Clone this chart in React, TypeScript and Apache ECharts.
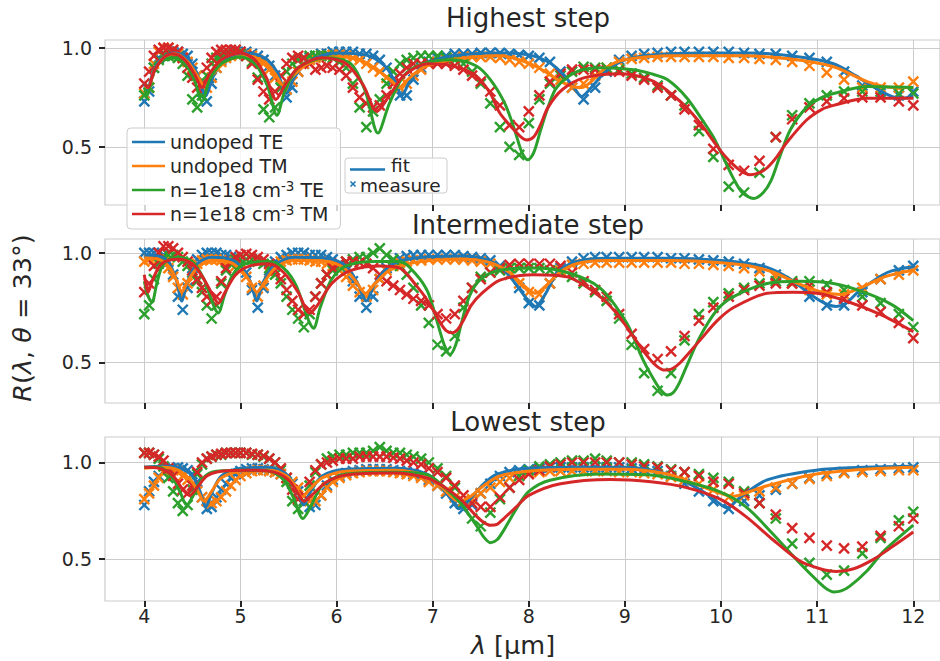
import React, { useEffect, useRef } from "react";
import * as echarts from "echarts";

const COLORS = ["#1f77b4", "#ff7f0e", "#2ca02c", "#d62728"];
const caseNames = ["undoped TE", "undoped TM", "n=1e18 cm-3 TE", "n=1e18 cm-3 TM"];
const panelTitles = ["Highest step", "Intermediate step", "Lowest step"];
const xTicks = [4, 5, 6, 7, 8, 9, 10, 11, 12];
const yTicks = [0.5, 1.0];
const xRange = [3.591, 12.278];
const yRanges = [
  [0.207, 1.04],
  [0.314, 1.063],
  [0.283, 1.132],
];

// measurement wavelengths (µm)
const mx = [
  4.0, 4.05, 4.1, 4.15, 4.2, 4.25, 4.3, 4.35, 4.4, 4.45,
  4.5, 4.55, 4.6, 4.65, 4.7, 4.75, 4.8, 4.85, 4.9, 4.95,
  5.0, 5.06, 5.12, 5.18, 5.24, 5.3, 5.36, 5.42, 5.48, 5.54,
  5.6, 5.66, 5.72, 5.78, 5.84, 5.9, 5.96, 6.03, 6.1, 6.17,
  6.24, 6.31, 6.38, 6.45, 6.52, 6.59, 6.66, 6.73, 6.8, 6.88,
  6.96, 7.05, 7.14, 7.23, 7.32, 7.41, 7.5, 7.6, 7.7, 7.8,
  7.9, 8.0, 8.11, 8.22, 8.33, 8.45, 8.57, 8.69, 8.81, 8.94,
  9.07, 9.2, 9.34, 9.48, 9.62, 9.77, 9.92, 10.08, 10.24, 10.4,
  10.57, 10.74, 10.92, 11.1, 11.28, 11.47, 11.66, 11.85, 12.0,
];

// ---------- Highest step: measurements ----------
const measHighTEu = [
  0.73, 0.78, 0.9, 0.95, 0.97, 0.98, 0.98, 0.98, 0.97, 0.96,
  0.92, 0.86, 0.78, 0.73, 0.82, 0.9, 0.94, 0.96, 0.97, 0.98,
  0.98, 0.98, 0.97, 0.96, 0.94, 0.91, 0.86, 0.8, 0.75, 0.8,
  0.88, 0.92, 0.95, 0.96, 0.97, 0.97, 0.98, 0.98, 0.98, 0.98,
  0.97, 0.97, 0.96, 0.94, 0.9, 0.84, 0.76, 0.76, 0.84, 0.9,
  0.93, 0.95, 0.96, 0.97, 0.97, 0.97, 0.975, 0.975, 0.975, 0.97,
  0.965, 0.96, 0.95, 0.93, 0.88, 0.8, 0.74, 0.8, 0.88, 0.94,
  0.96, 0.97, 0.975, 0.98, 0.98, 0.98, 0.98, 0.98, 0.975, 0.97,
  0.97, 0.96, 0.95, 0.93, 0.88, 0.81, 0.77, 0.76, 0.78,
];
const measHighTMu = [
  0.77, 0.8, 0.92, 0.98, 1.0, 1.0, 0.99, 0.97, 0.95, 0.93,
  0.9, 0.86, 0.81, 0.8, 0.85, 0.9, 0.93, 0.95, 0.96, 0.97,
  0.97, 0.97, 0.96, 0.94, 0.92, 0.89, 0.85, 0.81, 0.79, 0.83,
  0.88, 0.92, 0.94, 0.95, 0.96, 0.96, 0.965, 0.965, 0.96, 0.95,
  0.94, 0.92, 0.9, 0.88, 0.85, 0.82, 0.8, 0.82, 0.86, 0.89,
  0.92, 0.93, 0.94, 0.95, 0.955, 0.955, 0.955, 0.955, 0.95, 0.94,
  0.93, 0.92, 0.9, 0.87, 0.84, 0.8, 0.82, 0.86, 0.9, 0.93,
  0.945, 0.95, 0.955, 0.955, 0.955, 0.955, 0.955, 0.95, 0.95, 0.945,
  0.94, 0.93, 0.91, 0.875, 0.84, 0.8, 0.8, 0.8, 0.83,
];
const measHighTEd = [
  0.76, 0.8, 0.9, 0.94, 0.96, 0.96, 0.96, 0.95, 0.92, 0.86,
  0.74, 0.7, 0.76, 0.86, 0.92, 0.95, 0.96, 0.97, 0.97, 0.97,
  0.97, 0.96, 0.93, 0.85, 0.69, 0.65, 0.7, 0.8, 0.88, 0.92,
  0.94, 0.95, 0.96, 0.96, 0.96, 0.96, 0.95, 0.93, 0.9, 0.82,
  0.7, 0.6, 0.68, 0.74, 0.82, 0.88, 0.92, 0.94, 0.95, 0.96,
  0.96, 0.96, 0.95, 0.94, 0.92, 0.88, 0.82, 0.72, 0.6, 0.5,
  0.46, 0.62, 0.74, 0.82, 0.86, 0.88, 0.905, 0.9, 0.9, 0.89,
  0.87, 0.85, 0.81, 0.76, 0.71, 0.58, 0.45, 0.3, 0.27, 0.37,
  0.55, 0.66, 0.72, 0.76, 0.78, 0.78, 0.78, 0.77, 0.77,
];
const measHighTMd = [
  0.82, 0.88, 0.96, 0.99, 1.0, 1.0, 0.99, 0.98, 0.95, 0.9,
  0.85, 0.8, 0.82, 0.9, 0.95, 0.98, 0.99, 0.99, 0.99, 0.99,
  0.98, 0.96, 0.92, 0.84, 0.78, 0.74, 0.78, 0.86, 0.92, 0.95,
  0.96, 0.95, 0.92, 0.89, 0.9, 0.91, 0.9, 0.89, 0.86, 0.8,
  0.75, 0.72, 0.7, 0.71, 0.76, 0.82, 0.87, 0.9, 0.92, 0.92,
  0.92, 0.92, 0.92, 0.91, 0.89, 0.86, 0.83, 0.78, 0.71, 0.61,
  0.6, 0.68, 0.76, 0.83, 0.87, 0.89, 0.89, 0.89, 0.885, 0.88,
  0.86, 0.84, 0.8, 0.76, 0.69, 0.61, 0.49, 0.41, 0.38, 0.43,
  0.55, 0.64, 0.7, 0.73, 0.745, 0.75, 0.75, 0.73, 0.71,
];

// ---------- Intermediate step: measurements ----------
const measMidTEu = [
  1.0, 1.0, 1.0, 1.0, 0.99, 0.96, 0.9, 0.8, 0.74, 0.84,
  0.93, 0.97, 0.99, 1.0, 1.0, 1.0, 0.99, 0.99, 0.98, 0.97,
  0.95, 0.91, 0.83, 0.75, 0.84, 0.92, 0.96, 0.98, 0.99, 1.0,
  1.0, 1.0, 0.99, 0.99, 0.99, 0.98, 0.97, 0.95, 0.92, 0.87,
  0.8, 0.75, 0.8, 0.88, 0.93, 0.96, 0.975, 0.985, 0.99, 0.99,
  0.99, 0.99, 0.99, 0.99, 0.985, 0.98, 0.975, 0.965, 0.94, 0.9,
  0.84, 0.77, 0.76, 0.86, 0.93, 0.96, 0.975, 0.98, 0.98, 0.98,
  0.98, 0.98, 0.98, 0.975, 0.975, 0.97, 0.965, 0.96, 0.95, 0.93,
  0.9, 0.86, 0.8, 0.76, 0.76, 0.82, 0.88, 0.92, 0.94,
];
const measMidTMu = [
  0.96, 0.97, 0.97, 0.97, 0.96, 0.93, 0.89, 0.84, 0.81, 0.86,
  0.92, 0.95, 0.965, 0.97, 0.97, 0.97, 0.965, 0.96, 0.95, 0.94,
  0.92, 0.89, 0.84, 0.8, 0.85, 0.91, 0.94, 0.96, 0.965, 0.97,
  0.97, 0.97, 0.965, 0.96, 0.96, 0.95, 0.94, 0.92, 0.89, 0.85,
  0.82, 0.8, 0.83, 0.88, 0.92, 0.94, 0.955, 0.96, 0.965, 0.965,
  0.97, 0.97, 0.97, 0.97, 0.97, 0.965, 0.96, 0.95, 0.93, 0.9,
  0.86, 0.82, 0.81, 0.86, 0.92, 0.945, 0.95, 0.955, 0.955, 0.955,
  0.955, 0.955, 0.955, 0.955, 0.95, 0.95, 0.945, 0.94, 0.93, 0.915,
  0.89, 0.86, 0.83, 0.81, 0.81, 0.84, 0.88, 0.9, 0.92,
];
const measMidTEd = [
  0.72, 0.76, 0.88, 0.95, 0.98, 0.99, 0.99, 0.98, 0.96, 0.94,
  0.91, 0.87, 0.82, 0.76, 0.7, 0.76, 0.86, 0.92, 0.95, 0.97,
  0.97, 0.97, 0.97, 0.96, 0.95, 0.93, 0.9, 0.86, 0.8, 0.74,
  0.7, 0.66, 0.72, 0.8, 0.86, 0.9, 0.92, 0.94, 0.96, 0.97,
  0.98, 0.98, 1.0, 1.02, 0.99, 0.97, 0.94, 0.9, 0.84, 0.76,
  0.68, 0.58, 0.55, 0.62, 0.75, 0.84, 0.89, 0.91, 0.92, 0.93,
  0.93, 0.93, 0.93, 0.92, 0.91, 0.89, 0.86, 0.82, 0.78, 0.7,
  0.58, 0.45, 0.37, 0.45, 0.6, 0.72, 0.775, 0.815, 0.84, 0.86,
  0.87, 0.87, 0.87, 0.855, 0.83, 0.8, 0.77, 0.72, 0.66,
];
const measMidTMd = [
  0.82, 0.86, 0.94, 1.0, 1.03, 1.03, 1.02, 1.0, 0.98, 0.96,
  0.92, 0.88, 0.84, 0.8, 0.78, 0.8, 0.87, 0.93, 0.96, 0.98,
  0.99, 0.995, 0.99, 0.98, 0.97, 0.95, 0.92, 0.88, 0.83, 0.78,
  0.74, 0.72, 0.74, 0.8, 0.86, 0.9, 0.93, 0.95, 0.96, 0.96,
  0.955, 0.95, 0.93, 0.9, 0.87, 0.85, 0.83, 0.81, 0.79, 0.78,
  0.76, 0.72, 0.7, 0.72, 0.78, 0.84, 0.88, 0.91, 0.93, 0.945,
  0.95, 0.95, 0.95, 0.95, 0.94, 0.91, 0.87, 0.83, 0.8, 0.72,
  0.63, 0.56, 0.515, 0.55, 0.62, 0.69, 0.75, 0.8, 0.83, 0.85,
  0.86, 0.86, 0.85, 0.82, 0.79, 0.76, 0.73, 0.68, 0.61,
];

// ---------- Lowest step: measurements ----------
const measLowTEu = [
  0.78, 0.85, 0.9, 0.93, 0.95, 0.965, 0.97, 0.975, 0.97, 0.96,
  0.94, 0.9, 0.82, 0.76, 0.77, 0.82, 0.86, 0.89, 0.92, 0.94,
  0.955, 0.965, 0.97, 0.97, 0.965, 0.96, 0.95, 0.94, 0.92, 0.89,
  0.85, 0.8, 0.77, 0.78, 0.83, 0.88, 0.91, 0.93, 0.945, 0.955,
  0.96, 0.965, 0.965, 0.965, 0.965, 0.96, 0.955, 0.95, 0.94, 0.93,
  0.91, 0.88, 0.84, 0.79, 0.76, 0.78, 0.84, 0.89, 0.93, 0.95,
  0.96, 0.965, 0.97, 0.975, 0.975, 0.975, 0.975, 0.975, 0.975, 0.975,
  0.97, 0.965, 0.955, 0.93, 0.89, 0.85, 0.8, 0.76, 0.8, 0.83,
  0.86, 0.89, 0.92, 0.94, 0.95, 0.96, 0.965, 0.97, 0.975,
];
const measLowTMu = [
  0.81, 0.84, 0.88, 0.92, 0.95, 0.96, 0.96, 0.95, 0.93, 0.91,
  0.88, 0.85, 0.82, 0.8, 0.79, 0.8, 0.82, 0.85, 0.88, 0.91,
  0.93, 0.945, 0.955, 0.96, 0.96, 0.955, 0.95, 0.94, 0.92, 0.9,
  0.87, 0.83, 0.8, 0.8, 0.83, 0.87, 0.9, 0.92, 0.935, 0.945,
  0.95, 0.955, 0.955, 0.955, 0.955, 0.95, 0.945, 0.94, 0.93, 0.92,
  0.9, 0.88, 0.85, 0.82, 0.8, 0.81, 0.84, 0.87, 0.9, 0.92,
  0.935, 0.945, 0.95, 0.955, 0.955, 0.955, 0.955, 0.955, 0.955, 0.95,
  0.95, 0.945, 0.94, 0.925, 0.91, 0.89, 0.86, 0.82, 0.83, 0.85,
  0.87, 0.89, 0.915, 0.93, 0.945, 0.95, 0.955, 0.96, 0.96,
];
const measLowTEd = [
  1.05, 1.05, 1.04, 1.02, 0.98, 0.92, 0.85, 0.79, 0.75, 0.78,
  0.86, 0.94, 0.99, 1.02, 1.03, 1.04, 1.04, 1.05, 1.05, 1.05,
  1.05, 1.05, 1.04, 1.04, 1.03, 1.02, 1.0, 0.96, 0.9, 0.8,
  0.76, 0.8, 0.88, 0.95, 0.99, 1.02, 1.03, 1.04, 1.04, 1.05,
  1.05, 1.05, 1.06, 1.08, 1.06, 1.05, 1.05, 1.04, 1.03, 1.02,
  1.0, 0.97, 0.93, 0.87, 0.79, 0.71, 0.67, 0.74, 0.81, 0.87,
  0.93, 0.96, 0.98, 0.99, 1.0, 1.01, 1.01, 1.02, 1.01, 1.0,
  1.0, 0.99, 0.98, 0.965, 0.95, 0.94, 0.92, 0.9, 0.85, 0.79,
  0.71, 0.58, 0.48, 0.42, 0.44, 0.53, 0.61, 0.7, 0.745,
];
const measLowTMd = [
  1.05, 1.05, 1.04, 1.03, 1.01, 0.97, 0.93, 0.89, 0.86, 0.84,
  0.88, 0.95, 1.0, 1.02, 1.03, 1.04, 1.045, 1.05, 1.05, 1.05,
  1.05, 1.05, 1.045, 1.04, 1.035, 1.02, 1.0, 0.97, 0.92, 0.86,
  0.81, 0.83, 0.9, 0.96, 0.99, 1.0, 1.01, 1.02, 1.02, 1.02,
  1.03, 1.03, 1.03, 1.03, 1.03, 1.025, 1.02, 1.01, 1.0, 0.99,
  0.97, 0.95, 0.92, 0.88, 0.83, 0.79, 0.77, 0.77, 0.82, 0.87,
  0.91, 0.94, 0.96, 0.98, 0.99, 1.0, 1.0, 1.0, 1.0, 1.0,
  0.99, 0.98, 0.975, 0.96, 0.95, 0.93, 0.9, 0.89, 0.84, 0.79,
  0.73, 0.66, 0.61, 0.57, 0.555, 0.565, 0.62, 0.67, 0.71,
];

// ---------- fits [λ, R] ----------
const fitHighTEu = [[4.0,0.82],[4.03,0.78],[4.08,0.86],[4.15,0.93],[4.3,0.975],[4.45,0.95],[4.55,0.87],[4.64,0.76],[4.72,0.86],[4.85,0.94],[5.05,0.975],[5.25,0.95],[5.38,0.88],[5.48,0.77],[5.56,0.85],[5.7,0.93],[6.0,0.975],[6.3,0.965],[6.5,0.91],[6.61,0.83],[6.68,0.76],[6.76,0.83],[6.9,0.91],[7.2,0.96],[7.7,0.975],[8.0,0.965],[8.2,0.93],[8.35,0.87],[8.47,0.8],[8.55,0.755],[8.65,0.8],[8.8,0.88],[9.0,0.94],[9.3,0.965],[9.8,0.975],[10.3,0.975],[10.8,0.955],[11.17,0.92],[11.4,0.86],[11.56,0.81],[11.75,0.76],[11.86,0.745],[12.0,0.755]];
const fitHighTMu = [[4.0,0.8],[4.04,0.8],[4.1,0.88],[4.2,0.95],[4.32,0.97],[4.45,0.93],[4.55,0.86],[4.62,0.81],[4.7,0.86],[4.85,0.93],[5.05,0.96],[5.25,0.93],[5.36,0.87],[5.45,0.81],[5.55,0.86],[5.7,0.92],[6.0,0.955],[6.25,0.94],[6.45,0.88],[6.58,0.83],[6.65,0.8],[6.74,0.84],[6.9,0.9],[7.2,0.94],[7.7,0.96],[7.9,0.94],[8.1,0.9],[8.3,0.84],[8.45,0.805],[8.55,0.8],[8.65,0.83],[8.8,0.9],[9.0,0.94],[9.5,0.96],[10.2,0.96],[10.7,0.945],[11.17,0.905],[11.52,0.83],[11.8,0.8],[12.0,0.8]];
const fitHighTEd = [[4.0,0.8],[4.03,0.76],[4.08,0.85],[4.15,0.92],[4.3,0.95],[4.42,0.92],[4.52,0.84],[4.6,0.73],[4.68,0.84],[4.8,0.92],[5.0,0.955],[5.15,0.92],[5.28,0.81],[5.38,0.66],[5.46,0.78],[5.6,0.9],[5.9,0.95],[6.15,0.92],[6.3,0.78],[6.43,0.57],[6.55,0.72],[6.7,0.86],[6.9,0.92],[7.2,0.94],[7.45,0.91],[7.6,0.84],[7.75,0.72],[7.85,0.59],[7.93,0.47],[7.99,0.435],[8.05,0.47],[8.12,0.58],[8.2,0.7],[8.29,0.8],[8.5,0.88],[8.75,0.9],[9.09,0.89],[9.27,0.87],[9.44,0.84],[9.64,0.75],[9.8,0.64],[9.92,0.55],[10.03,0.44],[10.13,0.34],[10.22,0.27],[10.34,0.24],[10.44,0.27],[10.52,0.33],[10.61,0.45],[10.72,0.586],[10.89,0.7],[11.05,0.75],[11.17,0.77],[11.52,0.805],[12.0,0.8]];
const fitHighTMd = [[4.0,0.82],[4.04,0.8],[4.1,0.88],[4.2,0.95],[4.3,0.97],[4.42,0.94],[4.52,0.87],[4.6,0.8],[4.68,0.87],[4.8,0.94],[5.0,0.975],[5.15,0.94],[5.27,0.85],[5.37,0.74],[5.46,0.81],[5.6,0.9],[5.85,0.95],[6.1,0.92],[6.28,0.81],[6.42,0.68],[6.55,0.76],[6.7,0.86],[6.95,0.92],[7.2,0.91],[7.45,0.86],[7.6,0.77],[7.7,0.67],[7.84,0.59],[7.92,0.55],[7.98,0.535],[8.05,0.55],[8.12,0.61],[8.2,0.7],[8.35,0.79],[8.58,0.85],[8.95,0.87],[9.2,0.85],[9.37,0.81],[9.64,0.7],[9.8,0.61],[9.92,0.53],[10.03,0.46],[10.13,0.41],[10.22,0.375],[10.31,0.36],[10.4,0.37],[10.48,0.395],[10.58,0.45],[10.68,0.52],[10.89,0.636],[11.05,0.69],[11.17,0.71],[11.52,0.746],[12.0,0.746]];

const fitMidTEu = [[4.0,0.99],[4.15,0.985],[4.25,0.96],[4.33,0.88],[4.39,0.78],[4.45,0.87],[4.55,0.95],[4.7,0.98],[4.9,0.97],[5.04,0.92],[5.11,0.86],[5.17,0.78],[5.23,0.86],[5.35,0.94],[5.55,0.98],[5.9,0.975],[6.1,0.94],[6.22,0.86],[6.31,0.78],[6.4,0.86],[6.55,0.94],[6.8,0.975],[7.3,0.985],[7.55,0.97],[7.72,0.93],[7.86,0.86],[7.98,0.79],[8.07,0.755],[8.17,0.81],[8.3,0.91],[8.5,0.96],[8.8,0.975],[9.5,0.975],[10.0,0.965],[10.3,0.95],[10.5,0.93],[10.72,0.88],[10.96,0.8],[11.1,0.765],[11.2,0.755],[11.3,0.77],[11.45,0.83],[11.73,0.91],[12.0,0.936]];
const fitMidTMu = [[4.0,0.975],[4.15,0.97],[4.27,0.93],[4.34,0.87],[4.39,0.82],[4.45,0.87],[4.55,0.93],[4.7,0.965],[4.9,0.955],[5.03,0.91],[5.11,0.86],[5.17,0.82],[5.24,0.86],[5.36,0.93],[5.55,0.965],[5.9,0.96],[6.08,0.93],[6.2,0.87],[6.3,0.815],[6.4,0.86],[6.55,0.92],[6.8,0.955],[7.3,0.97],[7.6,0.955],[7.8,0.91],[7.95,0.85],[8.07,0.815],[8.18,0.85],[8.32,0.91],[8.5,0.95],[8.8,0.965],[9.5,0.965],[10.0,0.955],[10.3,0.94],[10.55,0.91],[10.8,0.86],[11.05,0.82],[11.25,0.81],[11.45,0.84],[11.7,0.89],[12.0,0.92]];
const fitMidTEd = [[4.0,0.87],[4.04,0.8],[4.08,0.775],[4.13,0.86],[4.2,0.95],[4.35,0.98],[4.5,0.96],[4.62,0.88],[4.72,0.76],[4.77,0.725],[4.83,0.8],[4.92,0.9],[5.05,0.95],[5.3,0.96],[5.45,0.93],[5.58,0.85],[5.7,0.7],[5.76,0.655],[5.83,0.75],[5.95,0.88],[6.1,0.94],[6.4,0.96],[6.66,0.96],[6.83,0.9],[6.95,0.82],[7.05,0.68],[7.12,0.58],[7.18,0.535],[7.24,0.58],[7.3,0.68],[7.38,0.8],[7.5,0.88],[7.7,0.92],[8.05,0.93],[8.4,0.91],[8.74,0.84],[9.02,0.678],[9.19,0.51],[9.33,0.4],[9.39,0.365],[9.44,0.35],[9.5,0.36],[9.56,0.4],[9.64,0.48],[9.78,0.616],[9.96,0.74],[10.13,0.8],[10.48,0.86],[10.82,0.87],[11.17,0.86],[11.52,0.815],[11.79,0.76],[12.0,0.69]];
const fitMidTMd = [[4.0,0.9],[4.04,0.82],[4.09,0.88],[4.18,0.95],[4.35,0.97],[4.5,0.95],[4.62,0.88],[4.72,0.8],[4.77,0.77],[4.84,0.82],[4.95,0.9],[5.1,0.94],[5.3,0.95],[5.45,0.91],[5.6,0.82],[5.72,0.725],[5.8,0.76],[5.95,0.86],[6.15,0.92],[6.45,0.94],[6.66,0.93],[6.83,0.85],[6.95,0.78],[7.08,0.68],[7.14,0.645],[7.2,0.635],[7.26,0.65],[7.33,0.7],[7.4,0.76],[7.5,0.81],[7.7,0.875],[8.05,0.9],[8.4,0.89],[8.74,0.8],[8.92,0.72],[9.09,0.616],[9.23,0.53],[9.31,0.49],[9.4,0.465],[9.49,0.47],[9.58,0.5],[9.78,0.6],[9.96,0.69],[10.13,0.75],[10.48,0.815],[10.75,0.82],[11.0,0.815],[11.3,0.78],[11.65,0.72],[12.0,0.64]];

const fitLowTEu = [[4.0,0.975],[4.2,0.98],[4.35,0.975],[4.5,0.93],[4.58,0.85],[4.64,0.77],[4.7,0.84],[4.8,0.93],[5.0,0.97],[5.3,0.975],[5.5,0.93],[5.6,0.84],[5.66,0.78],[5.72,0.84],[5.85,0.93],[6.1,0.965],[6.6,0.97],[6.94,0.94],[7.11,0.86],[7.22,0.79],[7.27,0.76],[7.37,0.8],[7.53,0.89],[7.67,0.94],[7.98,0.97],[8.5,0.975],[9.0,0.975],[9.44,0.94],[9.78,0.86],[9.95,0.8],[10.06,0.765],[10.2,0.82],[10.48,0.91],[10.99,0.96],[11.5,0.975],[12.0,0.98]];
const fitLowTMu = [[4.0,0.97],[4.2,0.975],[4.35,0.96],[4.48,0.91],[4.56,0.85],[4.62,0.8],[4.7,0.85],[4.8,0.92],[5.0,0.955],[5.3,0.96],[5.48,0.93],[5.58,0.87],[5.64,0.82],[5.72,0.86],[5.85,0.92],[6.1,0.955],[6.6,0.96],[6.94,0.93],[7.1,0.87],[7.27,0.8],[7.38,0.82],[7.53,0.88],[7.7,0.93],[8.0,0.955],[8.5,0.965],[9.0,0.965],[9.44,0.94],[9.78,0.88],[10.0,0.84],[10.13,0.825],[10.3,0.85],[10.48,0.88],[10.99,0.94],[11.5,0.965],[12.0,0.975]];
const fitLowTEd = [[4.0,0.975],[4.15,0.975],[4.28,0.93],[4.37,0.85],[4.44,0.78],[4.5,0.82],[4.58,0.9],[4.7,0.95],[5.0,0.96],[5.3,0.955],[5.45,0.91],[5.55,0.82],[5.65,0.71],[5.72,0.76],[5.85,0.88],[6.1,0.94],[6.6,0.95],[6.94,0.938],[7.11,0.877],[7.29,0.79],[7.46,0.67],[7.53,0.615],[7.6,0.585],[7.67,0.6],[7.74,0.65],[7.87,0.76],[8.0,0.85],[8.22,0.908],[8.74,0.94],[9.27,0.935],[9.64,0.9],[9.99,0.848],[10.26,0.77],[10.54,0.63],[10.82,0.478],[11.03,0.374],[11.1,0.345],[11.17,0.33],[11.25,0.335],[11.34,0.36],[11.52,0.44],[11.69,0.54],[12.0,0.676]];
const fitLowTMd = [[4.0,0.975],[4.15,0.97],[4.3,0.93],[4.4,0.86],[4.47,0.83],[4.55,0.87],[4.65,0.93],[4.8,0.955],[5.1,0.96],[5.35,0.95],[5.5,0.91],[5.6,0.84],[5.66,0.8],[5.74,0.83],[5.9,0.9],[6.1,0.935],[6.6,0.945],[6.94,0.92],[7.11,0.877],[7.29,0.81],[7.46,0.72],[7.53,0.69],[7.6,0.675],[7.67,0.68],[7.74,0.71],[7.87,0.77],[8.0,0.83],[8.33,0.89],[8.85,0.912],[9.27,0.9],[9.64,0.87],[9.99,0.81],[10.26,0.72],[10.54,0.6],[10.82,0.49],[11.03,0.45],[11.2,0.436],[11.38,0.45],[11.59,0.5],[11.8,0.57],[12.0,0.64]];

const panels = [
  { meas: [measHighTEu, measHighTMu, measHighTEd, measHighTMd], fits: [fitHighTEu, fitHighTMu, fitHighTEd, fitHighTMd] },
  { meas: [measMidTEu, measMidTMu, measMidTEd, measMidTMd], fits: [fitMidTEu, fitMidTMu, fitMidTEd, fitMidTMd] },
  { meas: [measLowTEu, measLowTMu, measLowTEd, measLowTMd], fits: [fitLowTEu, fitLowTMu, fitLowTEd, fitLowTMd] },
];

const FONT = "DejaVu Sans";
const TXT = "#262626";
const GRIDC = "#cccccc";
const XSYM = "path://M0,0L10,10M10,0L0,10";
const gridBoxes = [
  { top: 40, height: 165 },
  { top: 239, height: 164 },
  { top: 437, height: 164 },
];
const titleY = [18, 225, 422];

function buildOption() {
  const grid = gridBoxes.map((g) => ({
    left: 105,
    top: g.top,
    right: 0,
    height: g.height,
    show: true,
    backgroundColor: "#ffffff",
    borderColor: GRIDC,
    borderWidth: 1.2,
    containLabel: false,
  }));
  const xAxis = [0, 1, 2].map((i) => ({
    type: "value",
    gridIndex: i,
    min: xRange[0],
    max: xRange[1],
    axisLine: { show: false },
    axisTick: { show: true, customValues: xTicks, length: 6, lineStyle: { color: TXT, width: 2 } },
    axisLabel: {
      show: i === 2,
      customValues: xTicks,
      fontSize: 19,
      color: TXT,
      fontFamily: FONT,
      margin: 5,
    },
    splitLine: { show: true, lineStyle: { color: GRIDC, width: 1 } },
  }));
  const yAxis = [0, 1, 2].map((i) => ({
    type: "value",
    gridIndex: i,
    min: yRanges[i][0],
    max: yRanges[i][1],
    axisLine: { show: false },
    axisTick: { show: true, customValues: yTicks, length: 6, lineStyle: { color: TXT, width: 2 } },
    axisLabel: {
      customValues: yTicks,
      fontSize: 19,
      color: TXT,
      fontFamily: FONT,
      margin: 13,
      formatter: (v: number) => v.toFixed(1),
    },
    splitLine: { show: true, lineStyle: { color: GRIDC, width: 1 } },
  }));

  const series: any[] = [];
  panels.forEach((p, pi) => {
    for (let c = 0; c < 4; c++) {
      series.push({
        type: "scatter",
        name: "measure " + caseNames[c],
        xAxisIndex: pi,
        yAxisIndex: pi,
        data: mx.map((x, k) => [x, p.meas[c][k]]),
        symbol: XSYM,
        symbolSize: 10,
        itemStyle: { color: COLORS[c], borderColor: COLORS[c], borderWidth: 2.4, opacity: 1 },
        silent: true,
      });
      series.push({
        type: "line",
        name: caseNames[c],
        xAxisIndex: pi,
        yAxisIndex: pi,
        data: p.fits[c],
        smooth: 0.3,
        symbol: "none",
        showSymbol: false,
        lineStyle: { color: COLORS[c], width: 3 },
        itemStyle: { color: COLORS[c] },
        silent: true,
      });
    }
  });

  const graphic: any[] = [];
  panelTitles.forEach((t, i) => {
    graphic.push({
      type: "text",
      x: 528,
      y: titleY[i],
      z: 20,
      style: { text: t, align: "center", verticalAlign: "middle", fontSize: 26, fontFamily: FONT, fill: TXT },
    });
  });
  graphic.push({
    type: "text",
    x: 22,
    y: 318,
    rotation: Math.PI / 2,
    z: 20,
    style: {
      text: "{i|R}({i|λ}, {i|θ} = 33°)",
      align: "center",
      verticalAlign: "middle",
      fontSize: 25.5,
      fontFamily: FONT,
      fill: TXT,
      rich: { i: { fontStyle: "italic", fontSize: 25.5, fontFamily: FONT, fill: TXT } },
    },
  });
  graphic.push({
    type: "text",
    x: 513,
    y: 645,
    z: 20,
    style: {
      text: "{i|λ} [μm]",
      align: "center",
      verticalAlign: "middle",
      fontSize: 25.5,
      fontFamily: FONT,
      fill: TXT,
      rich: { i: { fontStyle: "italic", fontSize: 25.5, fontFamily: FONT, fill: TXT } },
    },
  });
  // second legend: fit / measure
  graphic.push({
    type: "rect",
    z: 20,
    shape: { x: 345, y: 158, width: 102, height: 35, r: 3 },
    style: { fill: "rgba(255,255,255,0.8)", stroke: GRIDC, lineWidth: 1 },
  });
  graphic.push({
    type: "line",
    z: 21,
    shape: { x1: 350, y1: 169.5, x2: 385, y2: 169.5 },
    style: { stroke: COLORS[0], lineWidth: 2.4 },
  });
  graphic.push({
    type: "text",
    z: 21,
    x: 391,
    y: 165.5,
    style: { text: "fit", verticalAlign: "middle", fontSize: 18.5, lineHeight: 14, fontFamily: FONT, fill: TXT },
  });
  graphic.push({
    type: "line",
    z: 21,
    shape: { x1: 350.5, y1: 181.5, x2: 355.5, y2: 186.5 },
    style: { stroke: COLORS[0], lineWidth: 1.6 },
  });
  graphic.push({
    type: "line",
    z: 21,
    shape: { x1: 355.5, y1: 181.5, x2: 350.5, y2: 186.5 },
    style: { stroke: COLORS[0], lineWidth: 1.6 },
  });
  graphic.push({
    type: "text",
    z: 21,
    x: 360,
    y: 185,
    style: { text: "measure", verticalAlign: "middle", fontSize: 18.5, lineHeight: 14, fontFamily: FONT, fill: TXT },
  });

  return {
    animation: false,
    backgroundColor: "#ffffff",
    textStyle: { fontFamily: FONT },
    grid,
    xAxis,
    yAxis,
    legend: {
      data: caseNames.map((n) => ({ name: n, icon: "rect" })),
      orient: "vertical",
      left: 127,
      top: 128,
      padding: [3, 12, 4, 5],
      itemWidth: 33,
      itemHeight: 2.6,
      itemGap: 2,
      selectedMode: false,
      backgroundColor: "rgba(255,255,255,0.8)",
      borderColor: GRIDC,
      borderWidth: 1,
      borderRadius: 4,
      formatter: (name: string) => name.replace("cm-3", "cm{sup|-3}"),
      textStyle: {
        fontSize: 19,
        fontFamily: FONT,
        color: TXT,
        lineHeight: 22,
        rich: {
          sup: { fontSize: 13.5, fontFamily: FONT, color: TXT, verticalAlign: "top", lineHeight: 22 },
        },
      },
    },
    graphic,
    series,
  };
}

export default function App() {
  const ref = useRef<HTMLDivElement>(null);
  useEffect(() => {
    document.body.style.margin = "0";
    const chart = echarts.init(ref.current as HTMLDivElement, undefined, { renderer: "svg" });
    chart.setOption(buildOption() as any);
    return () => chart.dispose();
  }, []);
  return <div ref={ref} style={{ width: 940, height: 661 }} />;
}
